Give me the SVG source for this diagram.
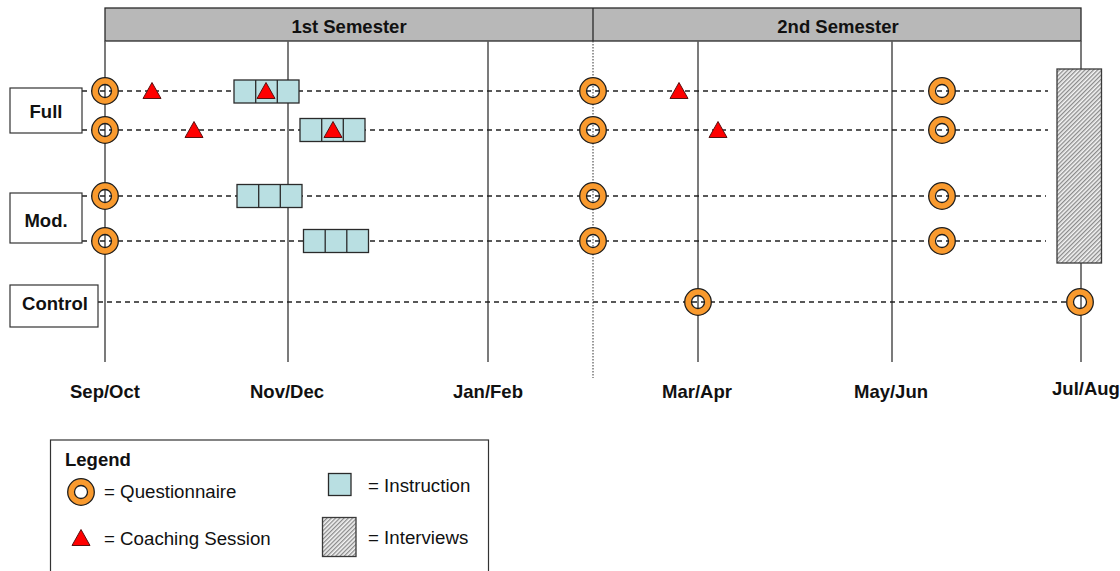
<svg xmlns="http://www.w3.org/2000/svg" width="1120" height="571" viewBox="0 0 1120 571">
  <defs>
    <pattern id="hatch" patternUnits="userSpaceOnUse" width="3" height="3" patternTransform="rotate(45)">
      <rect width="3" height="3" fill="#f4f4f4"/>
      <rect width="1.3" height="3" fill="#8a8a8a"/>
    </pattern>
    <!-- questionnaire: orange ring with a see-through hole -->
    <path id="ring" d="M -13.3 0 A 13.3 13.3 0 1 0 13.3 0 A 13.3 13.3 0 1 0 -13.3 0 Z M -6.5 0 A 6.5 6.5 0 1 1 6.5 0 A 6.5 6.5 0 1 1 -6.5 0 Z" fill="#F99A2E" fill-rule="evenodd" stroke="#1e1e1e" stroke-width="1.3"/>
    <!-- coaching session -->
    <polygon id="tri" points="0,-8.5 9,7.5 -9,7.5" fill="#FF0000" stroke="#5a1010" stroke-width="1"/>
    <!-- instruction block of three cells -->
    <g id="instr">
      <rect x="0" y="-11.5" width="65" height="23" fill="#B9DFE2" stroke="#2a2a2a" stroke-width="1.3"/>
      <line x1="21.7" y1="-11.5" x2="21.7" y2="11.5" stroke="#2a2a2a" stroke-width="1.3"/>
      <line x1="43.3" y1="-11.5" x2="43.3" y2="11.5" stroke="#2a2a2a" stroke-width="1.3"/>
    </g>
  </defs>
  <style>
    .hdr { fill: #B8B8B8; stroke: #2a2a2a; stroke-width: 1.3; }
    .vline { stroke: #5a5a5a; stroke-width: 1.6; fill: none; }
    .dot { stroke: #333; stroke-width: 1; stroke-dasharray: 1.5 1.5; fill: none; }
    .dash { stroke: #222; stroke-width: 1.3; stroke-dasharray: 5 4; fill: none; }
    .lbl { fill: #fff; stroke: #333; stroke-width: 1.2; }
    .b { font-family: "Liberation Sans", Arial, sans-serif; font-weight: bold; font-size: 18.5px; fill: #111; }
    .n { font-family: "Liberation Sans", Arial, sans-serif; font-size: 18.7px; fill: #111; }
  </style>

  <rect width="1120" height="571" fill="#ffffff"/>

  <!-- semester header -->
  <g id="header">
    <rect class="hdr" x="105" y="8" width="976" height="33"/>
    <line x1="593" y1="8" x2="593" y2="41" stroke="#2a2a2a" stroke-width="1.3"/>
    <text class="b" x="349" y="33" text-anchor="middle">1st Semester</text>
    <text class="b" x="838" y="33" text-anchor="middle">2nd Semester</text>
  </g>

  <!-- time axis -->
  <g id="axis">
    <line class="vline" x1="105" y1="41" x2="105" y2="362"/>
    <line class="vline" x1="288" y1="41" x2="288" y2="362"/>
    <line class="vline" x1="488" y1="41" x2="488" y2="362"/>
    <line class="dot" x1="593" y1="41" x2="593" y2="378"/>
    <line class="vline" x1="698" y1="41" x2="698" y2="362"/>
    <line class="vline" x1="892" y1="41" x2="892" y2="362"/>
    <line class="vline" x1="1081" y1="41" x2="1081" y2="69"/>
    <line class="vline" x1="1081" y1="263" x2="1081" y2="362"/>
    <text class="b" x="105" y="398" text-anchor="middle">Sep/Oct</text>
    <text class="b" x="287" y="398" text-anchor="middle">Nov/Dec</text>
    <text class="b" x="488" y="398" text-anchor="middle">Jan/Feb</text>
    <text class="b" x="697" y="398" text-anchor="middle">Mar/Apr</text>
    <text class="b" x="891" y="398" text-anchor="middle">May/Jun</text>
    <text class="b" x="1086" y="395" text-anchor="middle">Jul/Aug</text>
  </g>

  <!-- timeline rows -->
  <g id="connectors">
    <line class="dash" x1="82" y1="91" x2="1048" y2="91"/>
    <line class="dash" x1="82" y1="130" x2="1048" y2="130"/>
    <line class="dash" x1="82" y1="196" x2="1046" y2="196"/>
    <line class="dash" x1="82" y1="241" x2="1046" y2="241"/>
    <line class="dash" x1="98" y1="302" x2="1068" y2="302"/>
  </g>

  <!-- group labels -->
  <g id="group-full">
    <rect class="lbl" x="10" y="88" width="72" height="45"/>
    <text class="b" x="46" y="118" text-anchor="middle">Full</text>
  </g>
  <g id="group-mod">
    <rect class="lbl" x="10" y="193" width="72" height="50"/>
    <text class="b" x="46" y="227" text-anchor="middle">Mod.</text>
  </g>
  <g id="group-control">
    <rect class="lbl" x="10" y="285" width="88" height="42"/>
    <text class="b" x="55" y="310" text-anchor="middle">Control</text>
  </g>

  <!-- interviews -->
  <g id="interviews">
    <rect x="1057" y="69" width="44.5" height="194" fill="url(#hatch)" stroke="#3a3a3a" stroke-width="1.3"/>
  </g>

  <!-- instruction blocks -->
  <g id="instruction">
    <use href="#instr" x="234" y="91.5"/>
    <use href="#instr" x="300" y="130"/>
    <use href="#instr" x="237" y="196"/>
    <use href="#instr" x="303.5" y="241"/>
  </g>

  <!-- coaching sessions -->
  <g id="coaching">
    <use href="#tri" x="152" y="91"/>
    <use href="#tri" x="266" y="91"/>
    <use href="#tri" x="679" y="91"/>
    <use href="#tri" x="194" y="130"/>
    <use href="#tri" x="333" y="130"/>
    <use href="#tri" x="718" y="130"/>
  </g>

  <!-- questionnaires -->
  <g id="questionnaires">
    <use href="#ring" x="105" y="91"/>
    <use href="#ring" x="105" y="130"/>
    <use href="#ring" x="105" y="196"/>
    <use href="#ring" x="105" y="241"/>
    <use href="#ring" x="593" y="91"/>
    <use href="#ring" x="593" y="130"/>
    <use href="#ring" x="593" y="196"/>
    <use href="#ring" x="593" y="241"/>
    <use href="#ring" x="942" y="91"/>
    <use href="#ring" x="942" y="130"/>
    <use href="#ring" x="942" y="196"/>
    <use href="#ring" x="942" y="241"/>
    <use href="#ring" x="698" y="302"/>
    <use href="#ring" x="1080" y="302"/>
  </g>

  <!-- legend -->
  <g id="legend">
    <rect x="50.5" y="440" width="438" height="140" fill="#fff" stroke="#333" stroke-width="1.2"/>
    <text class="b" x="65" y="466">Legend</text>
    <use href="#ring" x="81" y="492"/>
    <text class="n" x="104" y="498">= Questionnaire</text>
    <use href="#tri" x="81" y="538"/>
    <text class="n" x="104" y="545">= Coaching Session</text>
    <rect x="328.5" y="473.5" width="22.5" height="22" fill="#B9DFE2" stroke="#2a2a2a" stroke-width="1.3"/>
    <text class="n" x="368" y="492">= Instruction</text>
    <rect x="322.5" y="517.5" width="33.5" height="39" fill="url(#hatch)" stroke="#3a3a3a" stroke-width="1.3"/>
    <text class="n" x="368" y="544">= Interviews</text>
  </g>
</svg>
